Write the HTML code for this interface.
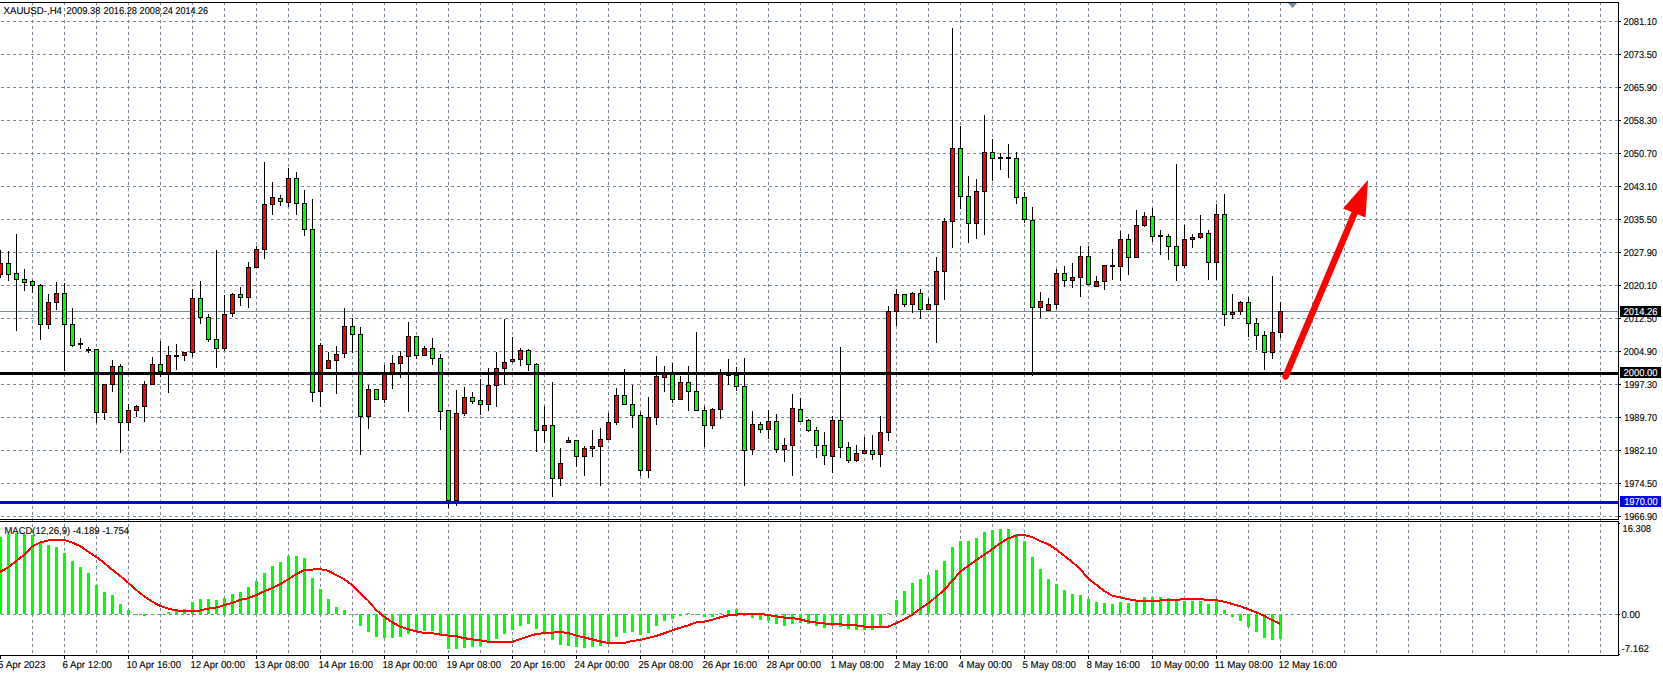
<!DOCTYPE html>
<html><head><meta charset="utf-8"><style>
html,body{margin:0;padding:0;background:#fff;}
svg{display:block;}
text{font-family:"Liberation Sans", sans-serif;font-size:10px;text-rendering:geometricPrecision;stroke-width:0.12px;paint-order:stroke;}
</style></head><body>
<svg width="1663" height="674" viewBox="0 0 1663 674" shape-rendering="crispEdges">
<rect width="1663" height="674" fill="#fff"/>
<path d="M1 21.5H1618 M1 54.5H1618 M1 87.5H1618 M1 120.5H1618 M1 153.5H1618 M1 186.5H1618 M1 219.5H1618 M1 252.5H1618 M1 285.5H1618 M1 318.5H1618 M1 351.5H1618 M1 384.5H1618 M1 417.5H1618 M1 450.5H1618 M1 483.5H1618 M1 516.5H1618 M1 614.5H1618" stroke="#778899" stroke-width="1" stroke-dasharray="3 3" fill="none"/>
<path d="M32.5 2V655 M64.5 2V655 M96.5 2V655 M128.5 2V655 M160.5 2V655 M192.5 2V655 M224.5 2V655 M256.5 2V655 M288.5 2V655 M320.5 2V655 M352.5 2V655 M384.5 2V655 M416.5 2V655 M448.5 2V655 M480.5 2V655 M512.5 2V655 M544.5 2V655 M576.5 2V655 M608.5 2V655 M640.5 2V655 M672.5 2V655 M704.5 2V655 M736.5 2V655 M768.5 2V655 M800.5 2V655 M832.5 2V655 M864.5 2V655 M896.5 2V655 M928.5 2V655 M960.5 2V655 M992.5 2V655 M1024.5 2V655 M1056.5 2V655 M1088.5 2V655 M1120.5 2V655 M1152.5 2V655 M1184.5 2V655 M1216.5 2V655 M1248.5 2V655 M1280.5 2V655 M1312.5 2V655 M1344.5 2V655 M1376.5 2V655 M1408.5 2V655 M1440.5 2V655 M1472.5 2V655 M1504.5 2V655 M1536.5 2V655 M1568.5 2V655 M1600.5 2V655" stroke="#778899" stroke-width="1" stroke-dasharray="3 3" fill="none"/>
<rect x="0" y="311" width="1618" height="1" fill="#778899"/>
<path d="M0.5 250V278 M8.5 251V281 M16.5 234V331 M24.5 269V291 M32.5 280V293 M40.5 284V340 M48.5 294V329 M56.5 282V310 M64.5 283V371 M72.5 308V347 M80.5 338V349 M88.5 347V353 M96.5 349V423 M104.5 384V420 M112.5 360V392 M120.5 364V453 M128.5 404V431 M136.5 405V417 M144.5 381V422 M152.5 357V385 M160.5 341V377 M168.5 346V393 M176.5 344V370 M184.5 352V361 M192.5 289V357 M200.5 281V324 M208.5 314V342 M216.5 250V368 M224.5 295V351 M232.5 293V317 M240.5 287V306 M248.5 262V308 M256.5 246V268 M264.5 162V259 M272.5 182V215 M280.5 195V206 M288.5 168V207 M296.5 172V215 M304.5 190V236 M312.5 199V402 M320.5 343V407 M328.5 352V369 M336.5 346V394 M344.5 308V358 M352.5 318V353 M360.5 327V455 M368.5 385V429 M376.5 389V400 M384.5 365V403 M392.5 355V389 M400.5 351V378 M408.5 322V412 M416.5 336V359 M424.5 346V356 M432.5 338V365 M440.5 354V430 M448.5 410V508 M456.5 390V506 M464.5 387V416 M472.5 392V404 M480.5 379V415 M488.5 368V411 M496.5 352V407 M504.5 319V385 M512.5 337V363 M520.5 348V366 M528.5 349V371 M536.5 363V452 M544.5 406V443 M552.5 382V497 M560.5 448V486 M568.5 437V443 M576.5 440V467 M584.5 446V476 M592.5 430V457 M600.5 428V486 M608.5 413V440 M616.5 388V425 M624.5 369V405 M632.5 385V428 M640.5 412V476 M648.5 397V478 M656.5 356V425 M664.5 366V392 M672.5 363V403 M680.5 376V400 M688.5 366V411 M696.5 332V411 M704.5 406V447 M712.5 408V429 M720.5 369V419 M728.5 359V385 M736.5 367V391 M744.5 358V486 M752.5 411V455 M760.5 422V433 M768.5 410V439 M776.5 414V453 M784.5 438V462 M792.5 394V476 M800.5 398V422 M808.5 419V432 M816.5 427V458 M824.5 432V465 M832.5 416V473 M840.5 347V458 M848.5 442V463 M856.5 445V462 M864.5 437V454 M872.5 435V460 M880.5 416V467 M888.5 306V441 M896.5 289V326 M904.5 294V307 M912.5 292V313 M920.5 289V319 M928.5 298V310 M936.5 257V343 M944.5 218V300 M952.5 28V248 M960.5 126V209 M968.5 176V243 M976.5 179V239 M984.5 115V235 M992.5 139V181 M1000.5 153V170 M1008.5 144V178 M1016.5 152V204 M1024.5 192V223 M1032.5 207V376 M1040.5 292V318 M1048.5 298V311 M1056.5 269V309 M1064.5 266V287 M1072.5 263V288 M1080.5 246V297 M1088.5 246V285 M1096.5 276V287 M1104.5 265V290 M1112.5 249V280 M1120.5 231V281 M1128.5 234V275 M1136.5 210V258 M1144.5 212V227 M1152.5 208V242 M1160.5 230V255 M1168.5 234V260 M1176.5 164V281 M1184.5 225V268 M1192.5 234V248 M1200.5 215V239 M1208.5 230V280 M1216.5 204V280 M1224.5 194V326 M1232.5 294V319 M1240.5 301V315 M1248.5 297V337 M1256.5 318V350 M1264.5 331V370 M1272.5 276V359 M1280.5 302V338" stroke="#000" stroke-width="1" fill="none"/>
<path d="M-2 263h5v12h-5z M6 263h5v12h-5z M14 273h5v7h-5z M22 279h5v4h-5z M30 281h5v5h-5z M38 285h5v40h-5z M46 302h5v23h-5z M54 293h5v10h-5z M62 293h5v32h-5z M70 324h5v22h-5z M78 343h5v2h-5z M86 349h5v2h-5z M94 349h5v64h-5z M102 384h5v29h-5z M110 366h5v19h-5z M118 366h5v57h-5z M126 410h5v13h-5z M134 406h5v5h-5z M142 384h5v23h-5z M150 364h5v21h-5z M158 364h5v8h-5z M166 355h5v18h-5z M174 355h5v2h-5z M182 352h5v4h-5z M190 298h5v55h-5z M198 298h5v20h-5z M206 317h5v23h-5z M214 339h5v10h-5z M222 314h5v35h-5z M230 294h5v20h-5z M238 294h5v4h-5z M246 267h5v31h-5z M254 249h5v19h-5z M262 204h5v46h-5z M270 197h5v8h-5z M278 198h5v4h-5z M286 178h5v25h-5z M294 178h5v26h-5z M302 203h5v27h-5z M310 229h5v164h-5z M318 345h5v47h-5z M326 360h5v9h-5z M334 354h5v7h-5z M342 326h5v28h-5z M350 326h5v9h-5z M358 334h5v83h-5z M366 389h5v28h-5z M374 389h5v11h-5z M382 373h5v27h-5z M390 363h5v11h-5z M398 356h5v8h-5z M406 336h5v21h-5z M414 336h5v20h-5z M422 348h5v8h-5z M430 348h5v11h-5z M438 358h5v54h-5z M446 410h5v91h-5z M454 413h5v88h-5z M462 397h5v17h-5z M470 397h5v5h-5z M478 400h5v5h-5z M486 385h5v20h-5z M494 368h5v18h-5z M502 362h5v7h-5z M510 359h5v3h-5z M518 350h5v10h-5z M526 350h5v15h-5z M534 364h5v67h-5z M542 425h5v6h-5z M550 425h5v54h-5z M558 463h5v16h-5z M566 440h5v3h-5z M574 440h5v17h-5z M582 448h5v9h-5z M590 446h5v3h-5z M598 439h5v8h-5z M606 422h5v18h-5z M614 395h5v28h-5z M622 395h5v10h-5z M630 404h5v12h-5z M638 415h5v56h-5z M646 417h5v54h-5z M654 376h5v42h-5z M662 374h5v4h-5z M670 374h5v26h-5z M678 382h5v18h-5z M686 382h5v10h-5z M694 391h5v20h-5z M702 410h5v16h-5z M710 409h5v17h-5z M718 374h5v36h-5z M726 374h5v2h-5z M734 375h5v12h-5z M742 386h5v65h-5z M750 424h5v26h-5z M758 424h5v6h-5z M766 421h5v9h-5z M774 421h5v29h-5z M782 445h5v5h-5z M790 408h5v38h-5z M798 409h5v13h-5z M806 420h5v11h-5z M814 430h5v16h-5z M822 445h5v11h-5z M830 420h5v37h-5z M838 420h5v28h-5z M846 447h5v14h-5z M854 453h5v8h-5z M862 450h5v4h-5z M870 450h5v5h-5z M878 432h5v23h-5z M886 311h5v122h-5z M894 294h5v18h-5z M902 294h5v11h-5z M910 293h5v12h-5z M918 293h5v17h-5z M926 304h5v6h-5z M934 271h5v34h-5z M942 221h5v51h-5z M950 148h5v74h-5z M958 148h5v49h-5z M966 196h5v28h-5z M974 191h5v33h-5z M982 152h5v40h-5z M990 152h5v7h-5z M998 157h5v2h-5z M1006 157h5v2h-5z M1014 158h5v40h-5z M1022 197h5v23h-5z M1030 220h5v88h-5z M1038 301h5v7h-5z M1046 304h5v7h-5z M1054 273h5v32h-5z M1062 273h5v8h-5z M1070 277h5v4h-5z M1078 256h5v22h-5z M1086 256h5v29h-5z M1094 281h5v6h-5z M1102 265h5v17h-5z M1110 265h5v2h-5z M1118 239h5v28h-5z M1126 239h5v19h-5z M1134 225h5v33h-5z M1142 216h5v10h-5z M1150 216h5v21h-5z M1158 235h5v2h-5z M1166 236h5v11h-5z M1174 246h5v20h-5z M1182 239h5v27h-5z M1190 237h5v3h-5z M1198 233h5v5h-5z M1206 233h5v30h-5z M1214 214h5v49h-5z M1222 214h5v101h-5z M1230 312h5v3h-5z M1238 302h5v10h-5z M1246 302h5v22h-5z M1254 323h5v13h-5z M1262 335h5v18h-5z M1270 332h5v21h-5z M1278 311h5v22h-5z" fill="#000"/>
<path d="M-1 264h3v10h-3z M47 303h3v21h-3z M55 294h3v8h-3z M103 385h3v27h-3z M111 367h3v17h-3z M127 411h3v11h-3z M135 407h3v3h-3z M143 385h3v21h-3z M151 365h3v19h-3z M167 356h3v16h-3z M183 353h3v2h-3z M191 299h3v53h-3z M223 315h3v33h-3z M231 295h3v18h-3z M247 268h3v29h-3z M255 250h3v17h-3z M263 205h3v44h-3z M271 198h3v6h-3z M287 179h3v23h-3z M319 346h3v45h-3z M327 361h3v7h-3z M335 355h3v5h-3z M343 327h3v26h-3z M367 390h3v26h-3z M383 374h3v25h-3z M391 364h3v9h-3z M399 357h3v6h-3z M407 337h3v19h-3z M423 349h3v6h-3z M455 414h3v86h-3z M463 398h3v15h-3z M487 386h3v18h-3z M495 369h3v16h-3z M503 363h3v5h-3z M511 360h3v1h-3z M519 351h3v8h-3z M543 426h3v4h-3z M559 464h3v14h-3z M567 441h3v1h-3z M583 449h3v7h-3z M591 447h3v1h-3z M599 440h3v6h-3z M607 423h3v16h-3z M615 396h3v26h-3z M647 418h3v52h-3z M655 377h3v40h-3z M663 375h3v2h-3z M679 383h3v16h-3z M711 410h3v15h-3z M719 375h3v34h-3z M751 425h3v24h-3z M767 422h3v7h-3z M783 446h3v3h-3z M791 409h3v36h-3z M831 421h3v35h-3z M855 454h3v6h-3z M863 451h3v2h-3z M879 433h3v21h-3z M887 312h3v120h-3z M895 295h3v16h-3z M911 294h3v10h-3z M927 305h3v4h-3z M935 272h3v32h-3z M943 222h3v49h-3z M951 149h3v72h-3z M975 192h3v31h-3z M983 153h3v38h-3z M1039 302h3v5h-3z M1047 305h3v5h-3z M1055 274h3v30h-3z M1071 278h3v2h-3z M1079 257h3v20h-3z M1095 282h3v4h-3z M1103 266h3v15h-3z M1119 240h3v26h-3z M1135 226h3v31h-3z M1143 217h3v8h-3z M1183 240h3v25h-3z M1191 238h3v1h-3z M1199 234h3v3h-3z M1215 215h3v47h-3z M1231 313h3v1h-3z M1239 303h3v8h-3z M1271 333h3v19h-3z M1279 312h3v20h-3z" fill="#ff0000"/>
<path d="M7 264h3v10h-3z M15 274h3v5h-3z M23 280h3v2h-3z M31 282h3v3h-3z M39 286h3v38h-3z M63 294h3v30h-3z M71 325h3v20h-3z M95 350h3v62h-3z M119 367h3v55h-3z M159 365h3v6h-3z M199 299h3v18h-3z M207 318h3v21h-3z M215 340h3v8h-3z M239 295h3v2h-3z M279 199h3v2h-3z M295 179h3v24h-3z M303 204h3v25h-3z M311 230h3v162h-3z M351 327h3v7h-3z M359 335h3v81h-3z M375 390h3v9h-3z M415 337h3v18h-3z M431 349h3v9h-3z M439 359h3v52h-3z M447 411h3v89h-3z M471 398h3v3h-3z M479 401h3v3h-3z M527 351h3v13h-3z M535 365h3v65h-3z M551 426h3v52h-3z M575 441h3v15h-3z M623 396h3v8h-3z M631 405h3v10h-3z M639 416h3v54h-3z M671 375h3v24h-3z M687 383h3v8h-3z M695 392h3v18h-3z M703 411h3v14h-3z M735 376h3v10h-3z M743 387h3v63h-3z M759 425h3v4h-3z M775 422h3v27h-3z M799 410h3v11h-3z M807 421h3v9h-3z M815 431h3v14h-3z M823 446h3v9h-3z M839 421h3v26h-3z M847 448h3v12h-3z M871 451h3v3h-3z M903 295h3v9h-3z M919 294h3v15h-3z M959 149h3v47h-3z M967 197h3v26h-3z M991 153h3v5h-3z M1015 159h3v38h-3z M1023 198h3v21h-3z M1031 221h3v86h-3z M1063 274h3v6h-3z M1087 257h3v27h-3z M1127 240h3v17h-3z M1151 217h3v19h-3z M1167 237h3v9h-3z M1175 247h3v18h-3z M1207 234h3v28h-3z M1223 215h3v99h-3z M1247 303h3v20h-3z M1255 324h3v11h-3z M1263 336h3v16h-3z" fill="#00ff00"/>
<rect x="0" y="372" width="1618" height="3" fill="#000"/>
<rect x="0" y="501" width="1618" height="3" fill="#0000ff"/>
<path d="M-1 537h3v77h-3z M7 534h3v80h-3z M15 533h3v81h-3z M23 534h3v80h-3z M31 535h3v79h-3z M39 543h3v71h-3z M47 545h3v69h-3z M55 547h3v67h-3z M63 553h3v61h-3z M71 561h3v53h-3z M79 567h3v47h-3z M87 573h3v41h-3z M95 585h3v29h-3z M103 592h3v22h-3z M111 595h3v19h-3z M119 604h3v10h-3z M127 610h3v4h-3z M135 614h3v1h-3z M143 614h3v2h-3z M151 614h3v1h-3z M159 614h3v1h-3z M167 612h3v2h-3z M175 609h3v5h-3z M183 609h3v5h-3z M191 602h3v12h-3z M199 599h3v15h-3z M207 599h3v15h-3z M215 600h3v14h-3z M223 598h3v16h-3z M231 594h3v20h-3z M239 592h3v22h-3z M247 587h3v27h-3z M255 581h3v33h-3z M263 573h3v41h-3z M271 566h3v48h-3z M279 562h3v52h-3z M287 556h3v58h-3z M295 556h3v58h-3z M303 558h3v56h-3z M311 578h3v36h-3z M319 589h3v25h-3z M327 599h3v15h-3z M335 607h3v7h-3z M343 610h3v4h-3z M351 614h3v1h-3z M359 614h3v12h-3z M367 614h3v18h-3z M375 614h3v23h-3z M383 614h3v24h-3z M391 614h3v24h-3z M399 614h3v23h-3z M407 614h3v20h-3z M415 614h3v17h-3z M423 614h3v17h-3z M431 614h3v17h-3z M439 614h3v22h-3z M447 614h3v35h-3z M455 614h3v35h-3z M463 614h3v34h-3z M471 614h3v33h-3z M479 614h3v32h-3z M487 614h3v29h-3z M495 614h3v25h-3z M503 614h3v20h-3z M511 614h3v16h-3z M519 614h3v12h-3z M527 614h3v10h-3z M535 614h3v15h-3z M543 614h3v19h-3z M551 614h3v26h-3z M559 614h3v31h-3z M567 614h3v32h-3z M575 614h3v33h-3z M583 614h3v34h-3z M591 614h3v33h-3z M599 614h3v32h-3z M607 614h3v28h-3z M615 614h3v23h-3z M623 614h3v19h-3z M631 614h3v18h-3z M639 614h3v21h-3z M647 614h3v19h-3z M655 614h3v12h-3z M663 614h3v7h-3z M671 614h3v5h-3z M679 614h3v2h-3z M687 613h3v1h-3z M695 614h3v1h-3z M703 614h3v3h-3z M711 614h3v3h-3z M719 613h3v1h-3z M727 610h3v4h-3z M735 609h3v5h-3z M743 614h3v2h-3z M751 614h3v4h-3z M759 614h3v6h-3z M767 614h3v7h-3z M775 614h3v10h-3z M783 614h3v12h-3z M791 614h3v10h-3z M799 614h3v9h-3z M807 614h3v10h-3z M815 614h3v12h-3z M823 614h3v14h-3z M831 614h3v12h-3z M839 614h3v13h-3z M847 614h3v15h-3z M855 614h3v16h-3z M863 614h3v16h-3z M871 614h3v16h-3z M879 614h3v12h-3z M887 613h3v1h-3z M895 600h3v14h-3z M903 591h3v23h-3z M911 583h3v31h-3z M919 579h3v35h-3z M927 575h3v39h-3z M935 570h3v44h-3z M943 561h3v53h-3z M951 547h3v67h-3z M959 541h3v73h-3z M967 541h3v73h-3z M975 538h3v76h-3z M983 532h3v82h-3z M991 530h3v84h-3z M999 529h3v85h-3z M1007 529h3v85h-3z M1015 534h3v80h-3z M1023 541h3v73h-3z M1031 557h3v57h-3z M1039 569h3v45h-3z M1047 579h3v35h-3z M1055 584h3v30h-3z M1063 590h3v24h-3z M1071 594h3v20h-3z M1079 595h3v19h-3z M1087 599h3v15h-3z M1095 602h3v12h-3z M1103 603h3v11h-3z M1111 604h3v10h-3z M1119 602h3v12h-3z M1127 603h3v11h-3z M1135 601h3v13h-3z M1143 597h3v17h-3z M1151 597h3v17h-3z M1159 597h3v17h-3z M1167 598h3v16h-3z M1175 601h3v13h-3z M1183 601h3v13h-3z M1191 601h3v13h-3z M1199 601h3v13h-3z M1207 604h3v10h-3z M1215 601h3v13h-3z M1223 610h3v4h-3z M1231 614h3v3h-3z M1239 614h3v7h-3z M1247 614h3v13h-3z M1255 614h3v18h-3z M1263 614h3v24h-3z M1271 614h3v26h-3z M1279 614h3v25h-3z" fill="#00ff00"/>
<polyline points="0,571.9 8,567.4 16,561.2 24,554.9 32,546.5 40,542.5 48,540.5 56,539.6 64,539.8 72,542.5 80,546.0 88,551.4 96,556.7 104,562.9 112,569.6 120,575.7 128,582.6 136,589.8 144,596.2 152,601.4 160,605.9 168,608.5 176,610.4 184,610.9 192,610.7 200,610.5 208,608.6 216,607.6 224,605.3 232,602.9 240,600.0 248,598.2 256,595.2 264,591.4 272,588.0 280,584.3 288,579.4 296,574.3 304,570.2 312,569.6 320,569.0 328,570.8 336,574.9 344,579.1 352,585.0 360,593.3 368,600.4 376,609.9 384,616.5 392,622.2 400,626.5 408,629.2 416,631.3 424,632.8 432,633.1 440,634.5 448,635.5 456,636.1 464,638.1 472,639.4 480,640.4 488,641.6 496,642.1 504,642.1 512,642.1 520,639.1 528,636.5 536,634.1 544,633.1 552,632.8 560,631.8 568,633.1 576,635.5 584,637.4 592,639.4 600,641.4 608,642.9 616,642.9 624,642.9 632,641.0 640,640.0 648,638.0 656,636.0 664,633.4 672,630.4 680,627.7 688,625.4 696,622.4 704,621.7 712,619.7 720,617.4 728,615.4 736,614.7 744,613.7 752,613.7 760,613.9 768,615.0 776,616.4 784,617.5 792,618.0 800,619.4 808,621.4 816,622.5 824,623.4 832,624.0 840,624.4 848,624.9 856,625.4 864,626.5 872,626.9 880,626.9 888,626.7 896,623.3 904,619.5 912,614.8 920,608.9 928,603.5 936,597.0 944,590.2 952,581.0 960,572.1 968,565.9 976,560.3 984,554.9 992,549.3 1000,543.4 1008,538.5 1016,535.6 1024,534.9 1032,537.1 1040,541.1 1048,544.0 1056,549.3 1064,555.6 1072,561.8 1080,568.9 1088,578.3 1096,584.5 1104,590.8 1112,595.6 1120,597.3 1128,599.2 1136,600.5 1144,600.8 1152,600.8 1160,600.5 1168,599.9 1176,600.0 1184,599.0 1192,599.0 1200,599.0 1208,600.0 1216,600.0 1224,601.8 1232,603.9 1240,606.2 1248,609.1 1256,612.2 1264,615.8 1272,620.0 1280,623.7" fill="none" stroke="#ff0000" stroke-width="2" stroke-linejoin="miter"/>
<line x1="1285.5" y1="376.5" x2="1355" y2="212" stroke="#ff0000" stroke-width="6.5" stroke-linecap="round" shape-rendering="auto"/>
<polygon points="1368,180 1343,208.5 1365.5,217.5" fill="#ff0000" shape-rendering="auto"/>
<rect x="0" y="2" width="1619" height="1" fill="#000"/>
<rect x="0" y="519" width="1619" height="1" fill="#000"/>
<rect x="0" y="521" width="1619" height="1" fill="#000"/>
<rect x="0" y="655" width="1619" height="1" fill="#000"/>
<rect x="1618" y="2" width="1" height="518" fill="#000"/>
<rect x="1618" y="521" width="1" height="135" fill="#000"/>
<polygon points="1288,3 1297,3 1292.5,8" fill="#778899" shape-rendering="auto"/>
<path d="M1619 21h2v1h-2z M1619 54h2v1h-2z M1619 87h2v1h-2z M1619 120h2v1h-2z M1619 153h2v1h-2z M1619 186h2v1h-2z M1619 219h2v1h-2z M1619 252h2v1h-2z M1619 285h2v1h-2z M1619 318h2v1h-2z M1619 351h2v1h-2z M1619 384h2v1h-2z M1619 417h2v1h-2z M1619 450h2v1h-2z M1619 483h2v1h-2z M1619 516h2v1h-2z M1619 523h1v1h-1z M1619 614h1v1h-1z M1619 654h1v1h-1z" fill="#000"/>
<rect x="1620" y="306" width="41" height="11" fill="#000"/>
<rect x="1620" y="367" width="41" height="11" fill="#000"/>
<rect x="1620" y="496" width="41" height="11" fill="#0000ff"/>
<path d="M0 656h1v3h-1z M64 656h1v3h-1z M128 656h1v3h-1z M192 656h1v3h-1z M256 656h1v3h-1z M320 656h1v3h-1z M384 656h1v3h-1z M448 656h1v3h-1z M512 656h1v3h-1z M576 656h1v3h-1z M640 656h1v3h-1z M704 656h1v3h-1z M768 656h1v3h-1z M832 656h1v3h-1z M896 656h1v3h-1z M960 656h1v3h-1z M1024 656h1v3h-1z M1088 656h1v3h-1z M1152 656h1v3h-1z M1216 656h1v3h-1z M1280 656h1v3h-1z" fill="#000"/>
<text x="1623.50" y="25" fill="#000" stroke="#000" textLength="33.50" lengthAdjust="spacingAndGlyphs">2081.10</text>
<text x="1623.50" y="58" fill="#000" stroke="#000" textLength="33.50" lengthAdjust="spacingAndGlyphs">2073.50</text>
<text x="1623.50" y="91" fill="#000" stroke="#000" textLength="33.50" lengthAdjust="spacingAndGlyphs">2065.90</text>
<text x="1623.50" y="124" fill="#000" stroke="#000" textLength="33.50" lengthAdjust="spacingAndGlyphs">2058.30</text>
<text x="1623.50" y="157" fill="#000" stroke="#000" textLength="33.50" lengthAdjust="spacingAndGlyphs">2050.70</text>
<text x="1623.50" y="190" fill="#000" stroke="#000" textLength="33.50" lengthAdjust="spacingAndGlyphs">2043.10</text>
<text x="1623.50" y="223" fill="#000" stroke="#000" textLength="33.50" lengthAdjust="spacingAndGlyphs">2035.50</text>
<text x="1623.50" y="256" fill="#000" stroke="#000" textLength="33.50" lengthAdjust="spacingAndGlyphs">2027.90</text>
<text x="1623.50" y="289" fill="#000" stroke="#000" textLength="33.50" lengthAdjust="spacingAndGlyphs">2020.10</text>
<text x="1623.50" y="322" fill="#000" stroke="#000" textLength="33.50" lengthAdjust="spacingAndGlyphs">2012.50</text>
<text x="1623.50" y="355" fill="#000" stroke="#000" textLength="33.50" lengthAdjust="spacingAndGlyphs">2004.90</text>
<text x="1624.20" y="388" fill="#000" stroke="#000" textLength="33.00" lengthAdjust="spacingAndGlyphs">1997.30</text>
<text x="1624.20" y="421" fill="#000" stroke="#000" textLength="33.00" lengthAdjust="spacingAndGlyphs">1989.70</text>
<text x="1624.20" y="454" fill="#000" stroke="#000" textLength="33.00" lengthAdjust="spacingAndGlyphs">1982.10</text>
<text x="1624.20" y="487" fill="#000" stroke="#000" textLength="33.00" lengthAdjust="spacingAndGlyphs">1974.50</text>
<text x="1624.20" y="520" fill="#000" stroke="#000" textLength="33.00" lengthAdjust="spacingAndGlyphs">1966.90</text>
<text x="1623.50" y="315" fill="#fff" stroke="#fff" textLength="34.00" lengthAdjust="spacingAndGlyphs">2014.26</text>
<text x="1623.50" y="376" fill="#fff" stroke="#fff" textLength="34.00" lengthAdjust="spacingAndGlyphs">2000.00</text>
<text x="1624.20" y="505" fill="#fff" stroke="#fff" textLength="33.50" lengthAdjust="spacingAndGlyphs">1970.00</text>
<text x="1622.50" y="532" fill="#000" stroke="#000" textLength="28.50" lengthAdjust="spacingAndGlyphs">16.308</text>
<text x="1621.50" y="618" fill="#000" stroke="#000" textLength="18.50" lengthAdjust="spacingAndGlyphs">0.00</text>
<text x="1621.50" y="652" fill="#000" stroke="#000" textLength="27.50" lengthAdjust="spacingAndGlyphs">-7.162</text>
<text x="4.50" y="534" fill="#000" stroke="#000" textLength="124.50" lengthAdjust="spacingAndGlyphs">MACD(12,26,9) -4.189 -1.754</text>
<text x="3.50" y="14" fill="#000" stroke="#000" textLength="58.50" lengthAdjust="spacingAndGlyphs">XAUUSD-,H4</text>
<text x="66.50" y="14" fill="#000" stroke="#000" textLength="34.00" lengthAdjust="spacingAndGlyphs">2009.38</text>
<text x="103.50" y="14" fill="#000" stroke="#000" textLength="33.50" lengthAdjust="spacingAndGlyphs">2016.28</text>
<text x="139.50" y="14" fill="#000" stroke="#000" textLength="33.50" lengthAdjust="spacingAndGlyphs">2008.24</text>
<text x="175.50" y="14" fill="#000" stroke="#000" textLength="32.50" lengthAdjust="spacingAndGlyphs">2014.26</text>
<text x="-2.00" y="668" fill="#000" stroke="#000" textLength="47.50" lengthAdjust="spacingAndGlyphs">5 Apr 2023</text>
<text x="62.50" y="668" fill="#000" stroke="#000" textLength="49.50" lengthAdjust="spacingAndGlyphs">6 Apr 12:00</text>
<text x="126.50" y="668" fill="#000" stroke="#000" textLength="54.50" lengthAdjust="spacingAndGlyphs">10 Apr 16:00</text>
<text x="190.50" y="668" fill="#000" stroke="#000" textLength="54.50" lengthAdjust="spacingAndGlyphs">12 Apr 00:00</text>
<text x="254.50" y="668" fill="#000" stroke="#000" textLength="54.50" lengthAdjust="spacingAndGlyphs">13 Apr 08:00</text>
<text x="318.50" y="668" fill="#000" stroke="#000" textLength="54.50" lengthAdjust="spacingAndGlyphs">14 Apr 16:00</text>
<text x="382.50" y="668" fill="#000" stroke="#000" textLength="54.50" lengthAdjust="spacingAndGlyphs">18 Apr 00:00</text>
<text x="446.50" y="668" fill="#000" stroke="#000" textLength="54.50" lengthAdjust="spacingAndGlyphs">19 Apr 08:00</text>
<text x="510.50" y="668" fill="#000" stroke="#000" textLength="54.50" lengthAdjust="spacingAndGlyphs">20 Apr 16:00</text>
<text x="574.50" y="668" fill="#000" stroke="#000" textLength="54.50" lengthAdjust="spacingAndGlyphs">24 Apr 00:00</text>
<text x="638.50" y="668" fill="#000" stroke="#000" textLength="54.50" lengthAdjust="spacingAndGlyphs">25 Apr 08:00</text>
<text x="702.50" y="668" fill="#000" stroke="#000" textLength="54.50" lengthAdjust="spacingAndGlyphs">26 Apr 16:00</text>
<text x="766.50" y="668" fill="#000" stroke="#000" textLength="54.50" lengthAdjust="spacingAndGlyphs">28 Apr 00:00</text>
<text x="830.50" y="668" fill="#000" stroke="#000" textLength="53.50" lengthAdjust="spacingAndGlyphs">1 May 08:00</text>
<text x="894.50" y="668" fill="#000" stroke="#000" textLength="53.50" lengthAdjust="spacingAndGlyphs">2 May 16:00</text>
<text x="958.50" y="668" fill="#000" stroke="#000" textLength="53.50" lengthAdjust="spacingAndGlyphs">4 May 00:00</text>
<text x="1022.50" y="668" fill="#000" stroke="#000" textLength="53.50" lengthAdjust="spacingAndGlyphs">5 May 08:00</text>
<text x="1086.50" y="668" fill="#000" stroke="#000" textLength="53.50" lengthAdjust="spacingAndGlyphs">8 May 16:00</text>
<text x="1150.50" y="668" fill="#000" stroke="#000" textLength="58.50" lengthAdjust="spacingAndGlyphs">10 May 00:00</text>
<text x="1214.50" y="668" fill="#000" stroke="#000" textLength="58.50" lengthAdjust="spacingAndGlyphs">11 May 08:00</text>
<text x="1278.50" y="668" fill="#000" stroke="#000" textLength="58.50" lengthAdjust="spacingAndGlyphs">12 May 16:00</text>
</svg>
</body></html>
